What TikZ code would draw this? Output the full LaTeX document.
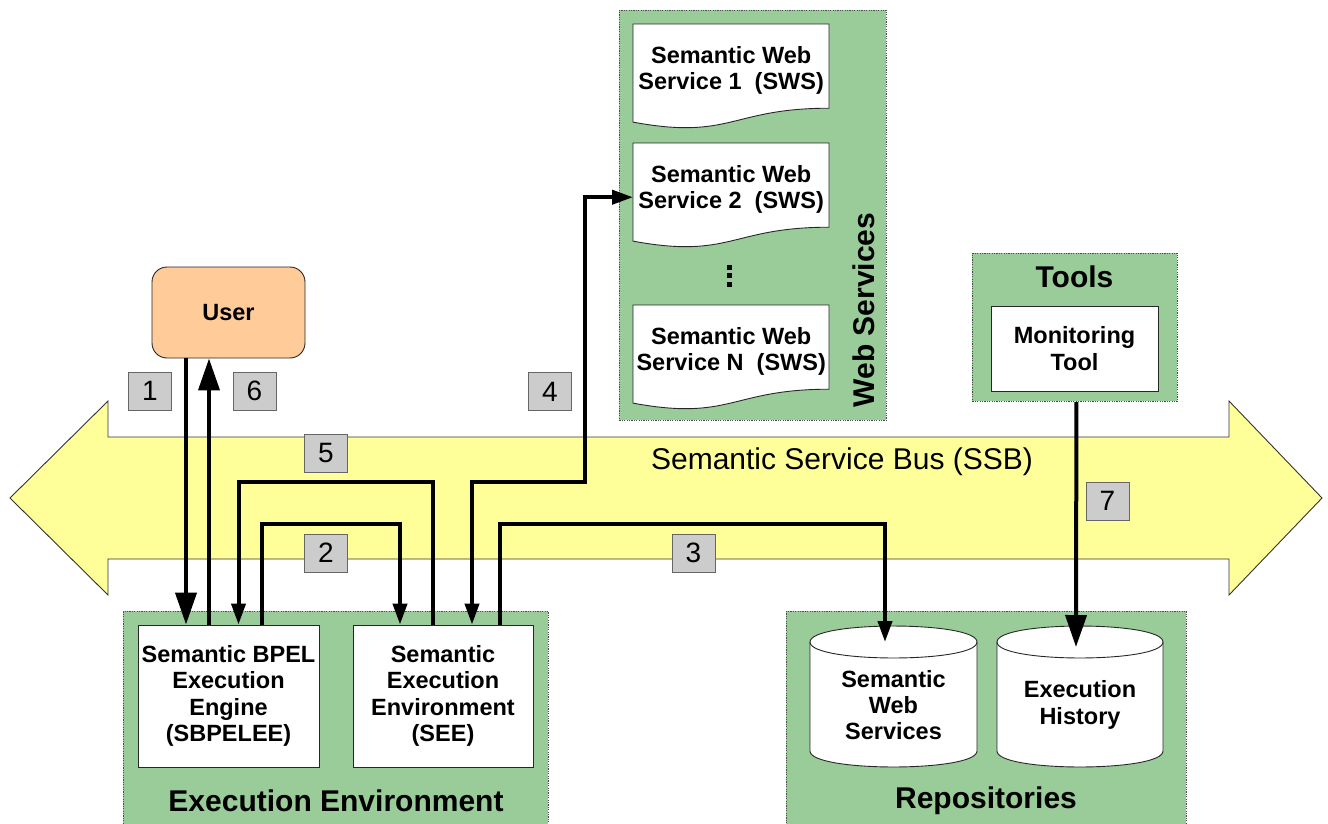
\documentclass[tikz,border=0pt]{standalone}
\usepackage{fontspec}
\setmainfont{Liberation Sans}
\usetikzlibrary{arrows.meta}
\definecolor{grp}{RGB}{153,204,153}
\definecolor{bus}{RGB}{255,255,153}
\definecolor{usr}{RGB}{255,204,153}
\definecolor{lbl}{RGB}{204,204,204}
\newcommand{\nodefnt}{\fontsize{23.5}{26.3}\selectfont\bfseries}
\newcommand{\titlefnt}{\fontsize{30}{34}\selectfont\bfseries}
\begin{document}
\begin{tikzpicture}[x=1pt,y=-1pt,
  grpbox/.style={fill=grp, draw=black!70, dash pattern=on 1.2pt off 1.2pt, line width=0.8pt, inner sep=0pt},
  whitebox/.style={draw=black!85, fill=white, line width=0.9pt, inner sep=0pt, align=center, font=\nodefnt},
  plaintext/.style={inner sep=0pt, align=center, font=\nodefnt},
  numbox/.style={draw=black!60, fill=lbl, line width=0.8pt, minimum width=43pt, minimum height=38pt, inner sep=0pt, font=\fontsize{28}{32}\selectfont},
  grptitle/.style={inner sep=0pt, font=\titlefnt},
  docshape/.style={draw=black!85, fill=white, line width=0.9pt},
  conn/.style={line width=4pt},
  bigtip/.style={-{Triangle[length=32pt,width=21pt]}},
  smalltip/.style={-{Triangle[length=21pt,width=14pt]}},
  bothtip/.style={{Triangle[length=21pt,width=14pt]}-{Triangle[length=21pt,width=14pt]}}
]
\useasboundingbox (0,0) rectangle (1328,823);
\fill[white] (0,0) rectangle (1328,823);

% Semantic Service Bus double arrow
\filldraw[fill=bus, draw=black!80, line width=0.9pt]
  (10,498) -- (108,401) -- (108,437) -- (1229,437) -- (1229,401) -- (1322,498)
  -- (1229,595) -- (1229,559) -- (108,559) -- (108,595) -- cycle;
\node[inner sep=0pt, font=\fontsize{30}{34}\selectfont] (ssb) at (842,462) {Semantic Service Bus (SSB)};

% groups
\node[grpbox, minimum width=267pt, minimum height=410pt, anchor=north west] (webgrp) at (619,10) {};
\node[grpbox, minimum width=205pt, minimum height=148pt, anchor=north west] (toolsgrp) at (972,253) {};
\node[grpbox, minimum width=425pt, minimum height=230pt, anchor=north west] (execgrp) at (123,611) {};
\node[grpbox, minimum width=400pt, minimum height=230pt, anchor=north west] (repogrp) at (786,611) {};

\node[grptitle, rotate=90] (wstitle) at (864,310) {Web Services};
\node[grptitle] (toolstitle) at (1074.5,277) {Tools};
\node[grptitle] (exectitle) at (336,801) {Execution Environment};
\node[grptitle] (repotitle) at (986,801) {Repositories};

% web service documents
\foreach \t in {24,143,305}{
  \filldraw[docshape] (633,\t) -- (829,\t) -- (829,\t+84.2)
    .. controls (731,\t+84.2) and (731,\t+116.3) .. (633,\t+98.1) -- cycle;
}
\node[plaintext, minimum width=196pt, minimum height=87pt, anchor=north west] (sws1) at (633,26.5) {Semantic Web\\Service 1\ \ (SWS)};
\node[plaintext, minimum width=196pt, minimum height=87pt, anchor=north west] (sws2) at (633,145.5) {Semantic Web\\Service 2\ \ (SWS)};
\node[plaintext, minimum width=196pt, minimum height=87pt, anchor=north west] (swsn) at (633,307.5) {Semantic Web\\Service N\ \ (SWS)};
\foreach \yy in {267,275.5,284}{
  \fill (727,\yy-2.5) rectangle (732,\yy+2.5);
}

% user
\node[whitebox, fill=usr, rounded corners=15pt, minimum width=153pt, minimum height=91pt] (user) at (228.5,312.5) {User};

% tools
\node[whitebox, minimum width=167pt, minimum height=85pt] (montool) at (1074.5,348.5) {Monitoring\\Tool};

% execution environment
\node[whitebox, minimum width=181pt, minimum height=142pt] (sbp) at (228.5,696) {Semantic BPEL\\Execution\\Engine\\(SBPELEE)};
\node[whitebox, minimum width=180pt, minimum height=142pt] (see) at (443,696) {Semantic\\Execution\\Environment\\(SEE)};

% repositories (cylinders)
\filldraw[docshape] (810,642) -- (810,751) .. controls (810,772.3) and (977,772.3) .. (977,751)
  -- (977,642) .. controls (977,620.7) and (810,620.7) .. (810,642) -- cycle;
\draw[docshape, fill=none] (810,642) .. controls (810,663.3) and (977,663.3) .. (977,642);
\filldraw[docshape] (997,642) -- (997,751) .. controls (997,772.3) and (1163,772.3) .. (1163,751)
  -- (1163,642) .. controls (1163,620.7) and (997,620.7) .. (997,642) -- cycle;
\draw[docshape, fill=none] (997,642) .. controls (997,663.3) and (1163,663.3) .. (1163,642);
\node[plaintext] (repo1) at (893.5,705) {Semantic\\Web\\Services};
\node[plaintext] (repo2) at (1080,705) {Execution\\History};

% connectors
\draw[conn, bigtip] ([xshift=-42.5pt]user.south) -- ([xshift=-42.5pt]sbp.north);
\draw[conn, bigtip] ([xshift=-19.5pt]sbp.north) -- ([xshift=-19.5pt]user.south);
\draw[conn, smalltip] ([xshift=33.5pt]sbp.north) -- ++(0,-101) -| ([xshift=-43pt]see.north);
\draw[conn, smalltip] ([xshift=-10pt]see.north) -- ++(0,-143) -| ([xshift=10pt]sbp.north);
\draw[conn, bothtip] ([xshift=29pt]see.north) -- ++(0,-143) -- ++(112.5,0) |- ([yshift=-8pt]sws2.west);
\draw[conn, smalltip] ([xshift=57pt]see.north) -- ++(0,-101) -| ([xshift=-8.5pt,yshift=63pt]repo1.center);
\draw[conn, bigtip] ([xshift=1.5pt]toolsgrp.south) -- ([xshift=-4pt,yshift=58pt]repo2.center);

% step numbers
\node[numbox] (n1) at (150,391) {1};
\node[numbox] (n6) at (254.5,391) {6};
\node[numbox] (n4) at (550,391.5) {4};
\node[numbox] (n5) at (326,453) {5};
\node[numbox] (n2) at (326,553) {2};
\node[numbox] (n3) at (693.5,553) {3};
\node[numbox] (n7) at (1107.5,501) {7};
\end{tikzpicture}
\end{document}
